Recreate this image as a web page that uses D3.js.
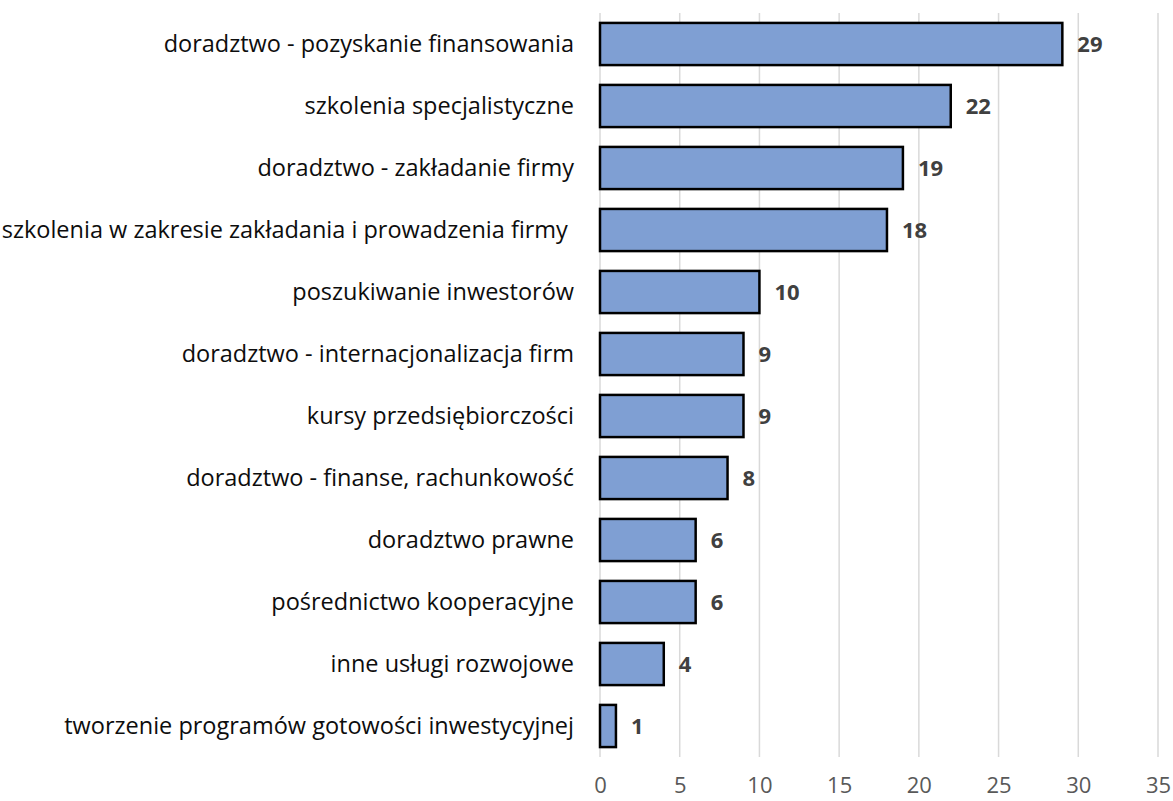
<!DOCTYPE html>
<html>
<head>
<meta charset="utf-8">
<script src="https://cdn.jsdelivr.net/npm/d3@7"></script>
<style>
  body { margin: 0; background: #fff; }
  svg text { font-family: "Open Sans", sans-serif; }
</style>
</head>
<body>
<svg width="1173" height="801"></svg>
<script>
// chart data
var categories = [
  "doradztwo - pozyskanie finansowania",
  "szkolenia specjalistyczne",
  "doradztwo - zakładanie firmy",
  "szkolenia w zakresie zakładania i prowadzenia firmy ",
  "poszukiwanie inwestorów",
  "doradztwo - internacjonalizacja firm",
  "kursy przedsiębiorczości",
  "doradztwo - finanse, rachunkowość",
  "doradztwo prawne",
  "pośrednictwo kooperacyjne",
  "inne usługi rozwojowe",
  "tworzenie programów gotowości inwestycyjnej"
];
var values = [29, 22, 19, 18, 10, 9, 9, 8, 6, 6, 4, 1];
var xTicks = [0, 5, 10, 15, 20, 25, 30, 35];

var svg = d3.select("svg");
var plotLeft = 600, plotRight = 1158, plotTop = 13, plotBottom = 757;

var data = categories.map(function(c, i) {
  return { name: c, value: values[i] };
});

var xScale = d3.scaleLinear()
  .domain([0, 35])
  .range([plotLeft, plotRight]);

var yScale = d3.scaleBand()
  .domain(categories)
  .range([plotTop, plotBottom])
  .paddingInner(0.32)
  .paddingOuter(0.16);

// gridlines
svg.append("g")
  .selectAll("line")
  .data(xTicks)
  .enter()
  .append("line")
    .attr("x1", function(d) { return xScale(d); })
    .attr("x2", function(d) { return xScale(d); })
    .attr("y1", plotTop)
    .attr("y2", plotBottom)
    .attr("stroke", "#d9d9d9")
    .attr("stroke-width", 1.5);

// x axis labels
var xAxis = d3.axisBottom(xScale).tickValues(xTicks).tickSize(0).tickPadding(0);
var gx = svg.append("g")
  .attr("transform", "translate(0," + 777 + ")")
  .call(xAxis);
gx.select(".domain").remove();
gx.selectAll("text")
  .attr("dy", "0.72em")
  .attr("font-size", 22)
  .attr("font-family", "Open Sans, sans-serif")
  .attr("fill", "#595959");

// bars
svg.append("g")
  .selectAll("rect")
  .data(data)
  .enter()
  .append("rect")
    .attr("x", xScale(0))
    .attr("y", function(d) { return yScale(d.name); })
    .attr("width", function(d) { return xScale(d.value) - xScale(0); })
    .attr("height", yScale.bandwidth())
    .attr("fill", "#7f9fd3")
    .attr("stroke", "#000")
    .attr("stroke-width", 2.5);

// y axis category labels
var yAxis = d3.axisLeft(yScale).tickSize(0).tickPadding(26);
var gy = svg.append("g")
  .attr("transform", "translate(" + plotLeft + ",0)")
  .call(yAxis);
gy.select(".domain").remove();
gy.selectAll("text")
  .attr("font-size", 23.5)
  .attr("font-family", "Open Sans, sans-serif")
  .attr("fill", "#0d0d0d")
  .style("white-space", "pre");

// value labels
svg.append("g")
  .selectAll("text")
  .data(data)
  .enter()
  .append("text")
    .attr("x", function(d) { return xScale(d.value) + 15; })
    .attr("y", function(d) { return yScale(d.name) + yScale.bandwidth() / 2; })
    .attr("dy", "0.35em")
    .attr("font-size", 22)
    .attr("font-weight", "bold")
    .attr("fill", "#404040")
    .text(function(d) { return d.value; });
</script>
</body>
</html>
